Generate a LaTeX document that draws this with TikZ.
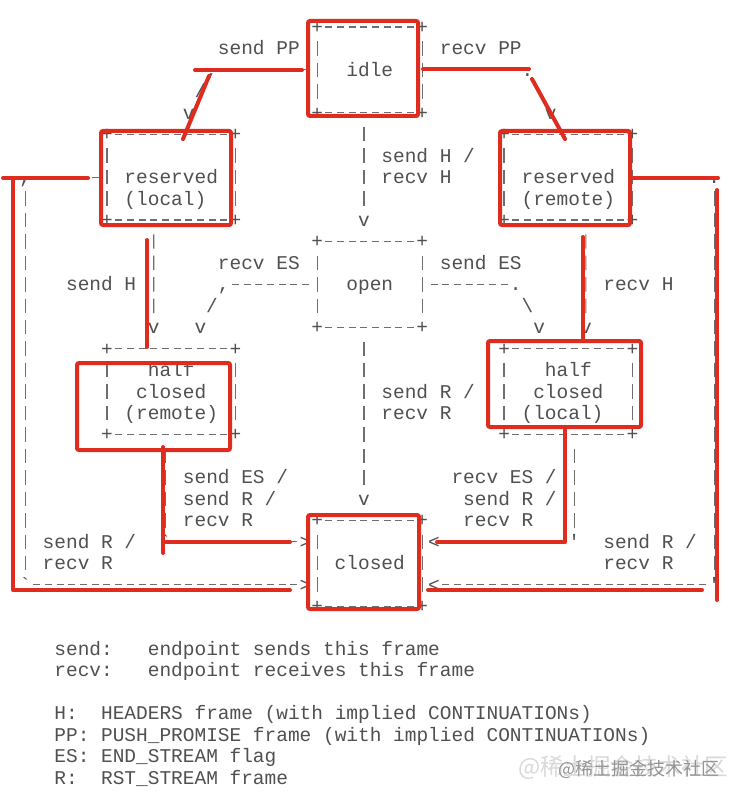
\documentclass[tikz,border=0pt]{standalone}
\usepackage{fontspec}
\setmonofont{Liberation Mono}
\newfontfamily\cjkfont{Noto Sans CJK SC}
\definecolor{txtgray}{RGB}{80,80,80}
\definecolor{lngray}{RGB}{110,110,110}
\definecolor{redmark}{RGB}{222,45,30}
\newcommand\afont{\ttfamily\fontsize{19.47pt}{21.45pt}\selectfont}
\tikzset{
  txt/.style={font=\afont, text=txtgray, inner sep=0pt, outer sep=0pt, anchor=base west},
  glyph/.style={font=\afont, text=txtgray, inner sep=0pt, outer sep=0pt, anchor=base},
  hdash/.style={draw=lngray, line width=1.2pt, dash pattern=on 7.01pt off 4.67pt},
  vdash/.style={draw=lngray, line width=1.2pt, dash pattern=on 14.45pt off 7pt},
  stbox/.style={inner sep=0pt, outer sep=0pt, minimum width=#1*11.68pt, minimum height=85.8pt},
  redline/.style={draw=redmark, line width=4pt, line cap=round, line join=round},
  redbox/.style={draw=redmark, line width=4pt, rounded corners=2pt},
  wmark/.style={inner sep=0pt, outer sep=0pt, anchor=west},
}
\newcommand\gl[4]{\node[glyph] (#1) at ({#2+0.5},{#3+0.3}) {#4};}
\newcommand\tx[4]{\node[txt] (#1) at (#2,{#3+0.3}) {#4};}
\newcommand\abox[1]{%
  \draw[hdash] ([xshift=8.18pt]#1.north west) -- ([xshift=-8.18pt]#1.north east);
  \draw[hdash] ([xshift=8.18pt]#1.south west) -- ([xshift=-8.18pt]#1.south east);
  \draw[vdash] ([yshift=-14.23pt]#1.north west) -- ([yshift=14.23pt]#1.south west);
  \draw[vdash] ([yshift=-14.23pt]#1.north east) -- ([yshift=14.23pt]#1.south east);
  \node[glyph] (#1-nw) at ([yshift=-6.44pt]#1.north west) {+};
  \node[glyph] (#1-ne) at ([yshift=-6.44pt]#1.north east) {+};
  \node[glyph] (#1-sw) at ([yshift=-6.44pt]#1.south west) {+};
  \node[glyph] (#1-se) at ([yshift=-6.44pt]#1.south east) {+};
}
\begin{document}
\begin{tikzpicture}[x=11.68pt,y=-21.45pt]
\fill[white] (5.3425,-1.2587) rectangle (68.699,36.037);
\useasboundingbox (5.3425,-1.2587) rectangle (68.699,36.037);
% ---------- state boxes
\node[stbox=9]  (idle)   at (37,2)  {};
\node[stbox=11] (resl)   at (20,7)  {};
\node[stbox=11] (resr)   at (54,7)  {};
\node[stbox=9]  (open)   at (37,12) {};
\node[stbox=11] (hcr)    at (20,17) {};
\node[stbox=11] (hcl)    at (54,17) {};
\node[stbox=9]  (closed) at (37,25) {};
\abox{idle}\abox{resl}\abox{resr}\abox{open}\abox{hcr}\abox{hcl}\abox{closed}
\tx{s1}{35}{2}{idle}
\tx{s2a}{16}{7}{reserved}\tx{s2b}{16}{8}{(local)}
\tx{s3a}{50}{7}{reserved}\tx{s3b}{50}{8}{(remote)}
\tx{s4}{35}{12}{open}
\tx{s5a}{18}{16}{half}\tx{s5b}{17}{17}{closed}\tx{s5c}{16}{18}{(remote)}
\tx{s6a}{52}{16}{half}\tx{s6b}{51}{17}{closed}\tx{s6c}{50}{18}{(local)}
\tx{s7}{34}{25}{closed}
% ---------- connectors
% idle -> reserved (local)
\draw[hdash] ([xshift=-8.18pt]idle.west) -- (24.2,2);
\gl{g1a}{23}{2}{,}\gl{g1b}{22}{3}{/}\gl{v1}{21}{4}{v}
\tx{l1}{24}{1}{send PP}
% idle -> reserved (remote)
\draw[hdash] ([xshift=8.18pt]idle.east) -- (49.8,2);
\gl{g2a}{50}{2}{.}\gl{g2b}{51}{3}{\textbackslash}\gl{v2}{52}{4}{v}
\tx{l2}{43}{1}{recv PP}
% idle -> open
\draw[vdash] ([xshift=-5.84pt,yshift=-14.23pt]idle.south) -- (36.5,8.34);
\gl{v3}{36}{9}{v}
\tx{l3a}{38}{6}{send H /}\tx{l3b}{38}{7}{recv H}
% reserved (local) -> closed
\draw[hdash] ([xshift=-8.18pt]resl.west) -- (8.2,7);
\gl{g4a}{7}{7}{,}
\draw[vdash] (7.5,7.66) -- (7.5,25.34);
\gl{g4b}{7}{26}{`}
\draw[hdash] (8.2,26) -- (30.8,26);
\gl{a4}{31}{26}{>}
\tx{l4a}{9}{24}{send R /}\tx{l4b}{9}{25}{recv R}
% reserved (local) -> half closed (remote)
\draw[vdash] ([xshift=-17.52pt,yshift=-14.23pt]resl.south) -- (18.5,13.34);
\gl{v5}{18}{14}{v}
\tx{l5}{11}{12}{send H}
% open -> half closed (remote)
\draw[hdash] ([xshift=-8.18pt]open.west) -- (25.2,12);
\gl{g6a}{24}{12}{,}\gl{g6b}{23}{13}{/}\gl{v6}{22}{14}{v}
\tx{l6}{24}{11}{recv ES}
% open -> half closed (local)
\draw[hdash] ([xshift=8.18pt]open.east) -- (48.8,12);
\gl{g7a}{49}{12}{.}\gl{g7b}{50}{13}{\textbackslash}\gl{v7}{51}{14}{v}
\tx{l7}{43}{11}{send ES}
% reserved (remote) -> half closed (local)
\draw[vdash] ([xshift=17.52pt,yshift=-14.23pt]resr.south) -- (55.5,13.34);
\gl{v8}{55}{14}{v}
\tx{l8}{57}{12}{recv H}
% reserved (remote) -> closed
\draw[hdash] ([xshift=8.18pt]resr.east) -- (65.8,7);
\gl{g9a}{66}{7}{.}
\draw[vdash] (66.5,7.66) -- (66.5,25.34);
\gl{g9b}{66}{26}{'}
\draw[hdash] (65.8,26) -- (43.2,26);
\gl{a9}{42}{26}{<}
\tx{l9a}{57}{24}{send R /}\tx{l9b}{57}{25}{recv R}
% open -> closed
\draw[vdash] ([xshift=-5.84pt,yshift=-14.23pt]open.south) -- (36.5,21.34);
\gl{v10}{36}{22}{v}
\tx{l10a}{38}{17}{send R /}\tx{l10b}{38}{18}{recv R}
% half closed (remote) -> closed
\draw[vdash] ([xshift=-5.84pt,yshift=-14.23pt]hcr.south) -- (19.5,23.34);
\gl{g11}{19}{24}{`}
\draw[hdash] (20.2,24) -- (30.8,24);
\gl{a11}{31}{24}{>}
\tx{l11a}{21}{21}{send ES /}\tx{l11b}{21}{22}{send R /}\tx{l11c}{21}{23}{recv R}
% half closed (local) -> closed
\draw[vdash] ([xshift=5.84pt,yshift=-14.23pt]hcl.south) -- (54.5,23.34);
\gl{g12}{54}{24}{'}
\draw[hdash] (53.8,24) -- (43.2,24);
\gl{a12}{42}{24}{<}
\tx{l12a}{44}{21}{recv ES /}\tx{l12b}{45}{22}{send R /}\tx{l12c}{45}{23}{recv R}
% ---------- legend
\tx{k1}{10}{29}{send:}\tx{k1d}{18}{29}{endpoint sends this frame}
\tx{k2}{10}{30}{recv:}\tx{k2d}{18}{30}{endpoint receives this frame}
\tx{k3}{10}{32}{H:}\tx{k3d}{14}{32}{HEADERS frame (with implied CONTINUATIONs)}
\tx{k4}{10}{33}{PP:}\tx{k4d}{14}{33}{PUSH\_PROMISE frame (with implied CONTINUATIONs)}
\tx{k5}{10}{34}{ES:}\tx{k5d}{14}{34}{END\_STREAM flag}
\tx{k6}{10}{35}{R:}\tx{k6d}{14}{35}{RST\_STREAM frame}
% ---------- red marker overlay and watermark (pixel coordinates)
\begin{scope}[x=1pt,y=-1pt,shift={(62.4pt,27pt)}]
\node[wmark, font=\cjkfont\fontsize{23.5pt}{23.5pt}\selectfont, text=black!15] (wm1) at (518,768) {@稀土掘金技术社区};
\node[wmark, font=\cjkfont\fontsize{18pt}{18pt}\selectfont, text=black!42] (wm2) at (558,769) {@稀土掘金技术社区};
\draw[redbox] (308,21) rectangle (418,116);
\draw[redline] (195,70) -- (302,70);
\draw[redline] (209,76) -- (183,139);
\draw[redline] (423,69) -- (529,69);
\draw[redline] (532,79) -- (565,139);
\draw[redbox] (101,131) rectangle (231,225);
\draw[redbox] (500,131) rectangle (630,225);
\draw[redline] (3,178) -- (88,178);
\draw[redline] (13,178) -- (13,590) -- (290,590);
\draw[redline] (633,178) -- (718,178);
\draw[redline] (717,190) -- (717,600);
\draw[redline] (147,240) -- (147,347);
\draw[redline] (583,237) -- (583,341);
\draw[redbox] (77,363) rectangle (230,450);
\draw[redbox] (488,341) rectangle (641,427);
\draw[redline] (163,447) -- (163,553);
\draw[redline] (163,542) -- (290,542);
\draw[redline] (565,430) -- (565,542) -- (437,542);
\draw[redbox] (308,515) rectangle (419,609);
\draw[redline] (428,590) -- (702,590);
\end{scope}
\end{tikzpicture}
\end{document}
